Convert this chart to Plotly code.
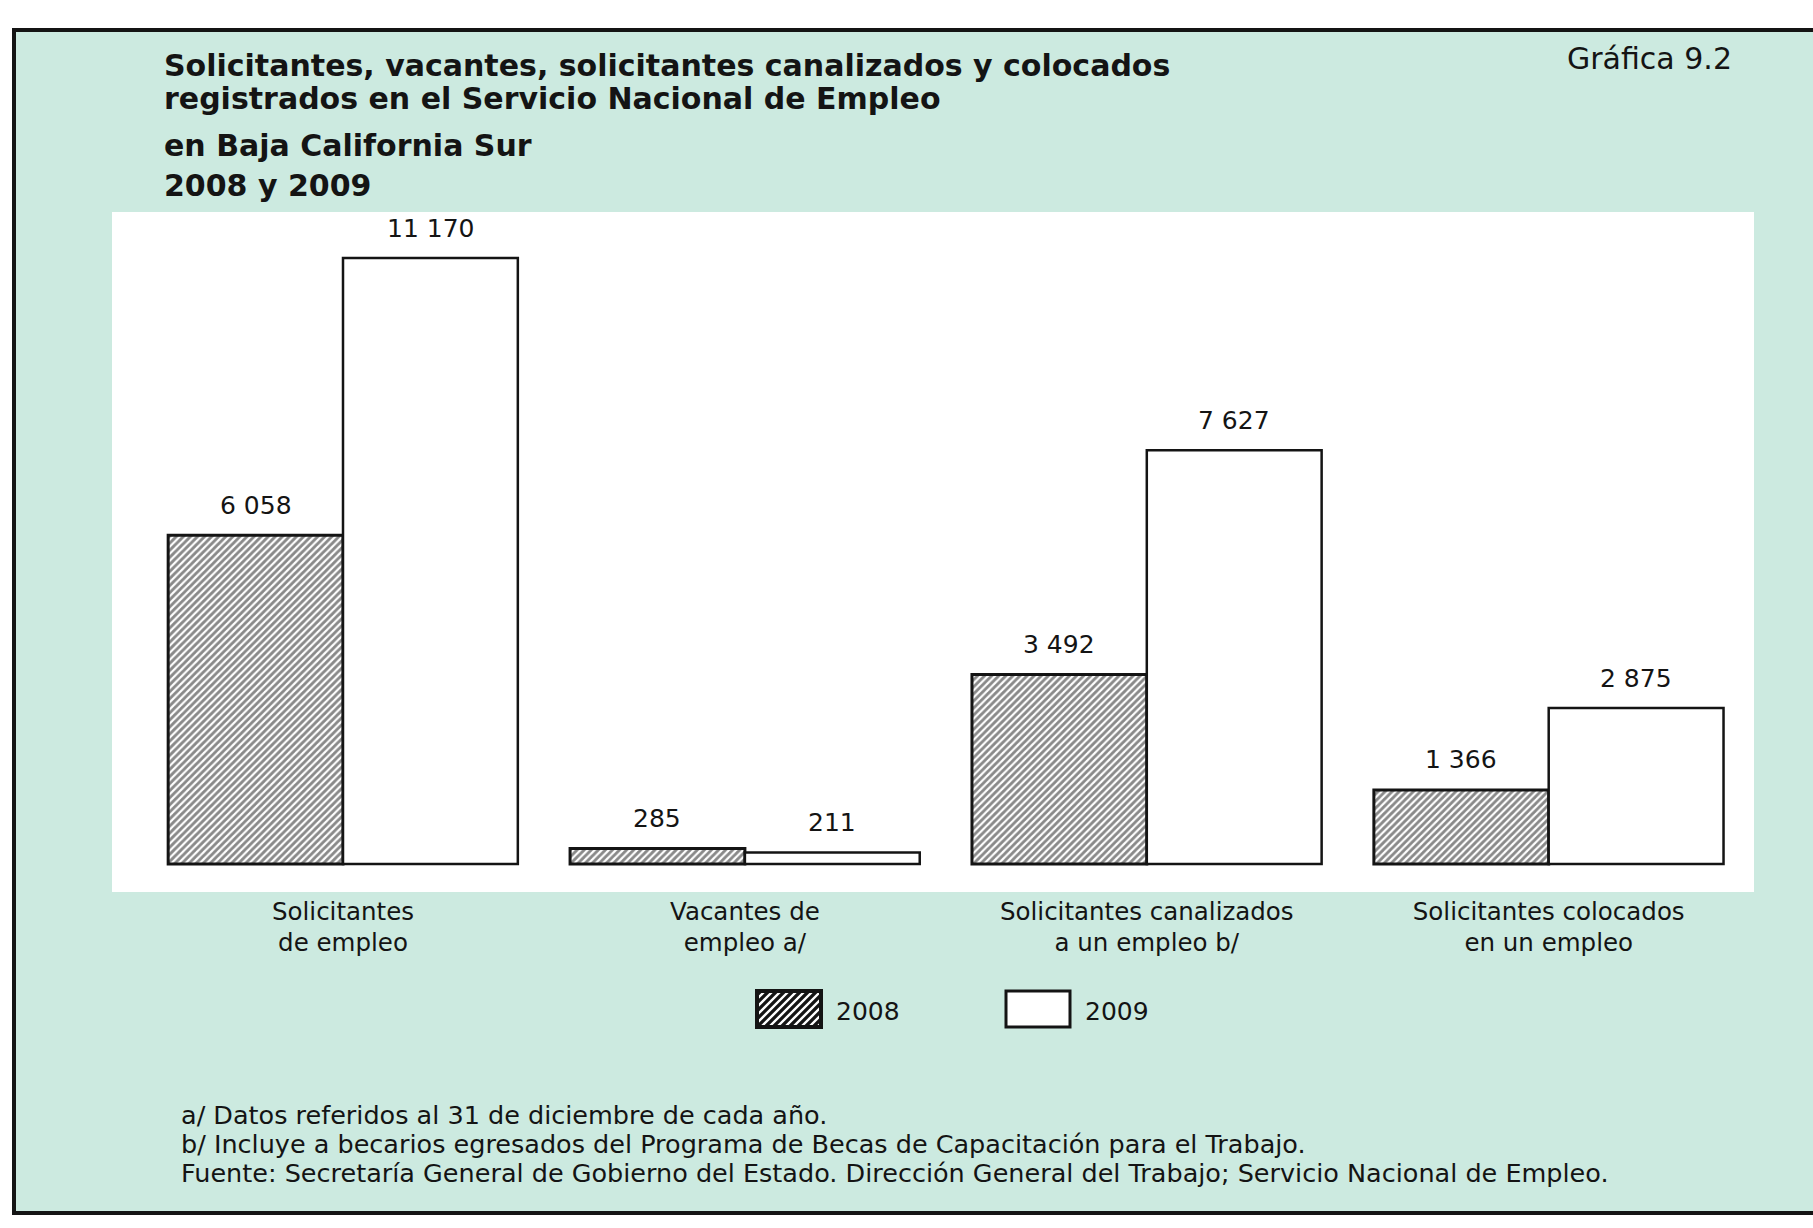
import plotly.graph_objects as go

# ---- data -------------------------------------------------------------
categories = [
    "Solicitantes<br>de empleo",
    "Vacantes de<br>empleo a/",
    "Solicitantes canalizados<br>a un empleo b/",
    "Solicitantes colocados<br>en un empleo",
]
series_names = ["2008", "2009"]
values_2008 = [6058, 285, 3492, 1366]
values_2009 = [11170, 211, 7627, 2875]

title_lines = [
    "Solicitantes, vacantes, solicitantes canalizados y colocados",
    "registrados en el Servicio Nacional de Empleo",
    "en Baja California Sur",
    "2008 y 2009",
]
chart_number = "Gráfica 9.2"
notes = [
    "a/ Datos referidos al 31 de diciembre de cada año.",
    "b/ Incluye a becarios egresados del Programa de Becas de Capacitación para el Trabajo.",
    "Fuente: Secretaría General de Gobierno del Estado. Dirección General del Trabajo; Servicio Nacional de Empleo.",
]

# ---- page geometry (pixels) ------------------------------------------
W, H = 1813, 1228
PX0, PX1 = 112, 1754      # plot area left / right
PY0, PY1 = 212, 892       # plot area top / bottom
MINT = "#cceae0"
INK = "#141414"
FONT = "DejaVu Sans"


def px(x):
    return (x - PX0) / (PX1 - PX0)


def py(y):
    return (PY1 - y) / (PY1 - PY0)


def fmt(v):
    return f"{v:,}".replace(",", " ")


x_pos = list(range(len(categories)))
bargap = 0.13
half_offset = (1 - bargap) / 4

fig = go.Figure()
fig.add_trace(go.Bar(
    x=x_pos, y=values_2008, name=series_names[0],
    marker=dict(color="white", line=dict(color=INK, width=3),
                pattern=dict(shape="/", fgcolor=INK, bgcolor="white",
                             size=5, solidity=0.58)),
    showlegend=False, hoverinfo="skip",
))
fig.add_trace(go.Bar(
    x=x_pos, y=values_2009, name=series_names[1],
    marker=dict(color="white", line=dict(color=INK, width=2.5)),
    showlegend=False, hoverinfo="skip",
))

annotations = []
# value labels above each bar
for vals, sign in ((values_2008, -1), (values_2009, 1)):
    for i, v in enumerate(vals):
        annotations.append(dict(
            x=i + sign * half_offset, y=v, xref="x", yref="y",
            text=fmt(v), showarrow=False, yanchor="middle", yshift=30,
            font=dict(family=FONT, size=25, color=INK),
        ))

# title block
title_y = [65, 99, 146, 186]
for line, yy in zip(title_lines, title_y):
    annotations.append(dict(
        x=px(162), y=py(yy), xref="paper", yref="paper", text=f"<b>{line}</b>",
        showarrow=False, xanchor="left", yanchor="middle",
        font=dict(family=FONT, size=30, color=INK),
    ))
annotations.append(dict(
    x=px(1734), y=py(59), xref="paper", yref="paper", text=chart_number,
    showarrow=False, xanchor="right", yanchor="middle",
    font=dict(family=FONT, size=30, color=INK),
))

# footnotes
for line, yy in zip(notes, [1115, 1144, 1173]):
    annotations.append(dict(
        x=px(179), y=py(yy), xref="paper", yref="paper", text=line,
        showarrow=False, xanchor="left", yanchor="middle",
        font=dict(family=FONT, size=25.5, color=INK),
    ))

# legend: swatch boxes + labels
shapes = []
legend_y = 1009
swatches = [(757, 821, series_names[0], True), (1006, 1070, series_names[1], False)]
for x0, x1, name, hatched in swatches:
    y0, y1 = legend_y - 18, legend_y + 18
    if hatched:
        shapes.append(dict(type="rect", xref="paper", yref="paper",
                           x0=px(x0), x1=px(x1), y0=py(y1), y1=py(y0),
                           fillcolor="white", line=dict(width=0)))
        period = 8
        segs = []
        c = x0 + y0 + period / 2
        while c < x1 + y1:
            # line x + y = c, clipped to the box
            pts = []
            for xx in (x0, x1):
                yy = c - xx
                if y0 <= yy <= y1:
                    pts.append((xx, yy))
            for yy in (y0, y1):
                xx = c - yy
                if x0 <= xx <= x1:
                    pts.append((xx, yy))
            if len(pts) >= 2:
                (ax, ay), (bx, by) = pts[0], pts[1]
                segs.append(f"M{px(ax):.5f},{py(ay):.5f}L{px(bx):.5f},{py(by):.5f}")
            c += period
        shapes.append(dict(type="path", xref="paper", yref="paper",
                           path="".join(segs), line=dict(color=INK, width=3.2)))
        shapes.append(dict(type="rect", xref="paper", yref="paper",
                           x0=px(x0), x1=px(x1), y0=py(y1), y1=py(y0),
                           fillcolor="rgba(0,0,0,0)", line=dict(color=INK, width=4)))
    else:
        shapes.append(dict(type="rect", xref="paper", yref="paper",
                           x0=px(x0), x1=px(x1), y0=py(y1), y1=py(y0),
                           fillcolor="white", line=dict(color=INK, width=3)))
    annotations.append(dict(
        x=px(x1 + 13), y=py(legend_y + 2), xref="paper", yref="paper", text=name,
        showarrow=False, xanchor="left", yanchor="middle",
        font=dict(family=FONT, size=25, color=INK),
    ))

# white margins outside the framed panel, then the frame lines
for x0, x1, y0, y1 in [(0, W, 0, 30), (0, 14, 0, H), (0, W, 1213, H)]:
    shapes.append(dict(type="rect", xref="paper", yref="paper",
                       x0=px(x0), x1=px(x1), y0=py(y1), y1=py(y0),
                       fillcolor="white", line=dict(width=0), layer="below"))
for x0, y0, x1, y1 in [(12, 30, W, 30), (14, 30, 14, 1213), (12, 1213, W, 1213)]:
    shapes.append(dict(type="line", xref="paper", yref="paper",
                       x0=px(x0), y0=py(y0), x1=px(x1), y1=py(y1),
                       line=dict(color=INK, width=4)))

# value scale: 0 sits at pixel row 864, 11 170 reaches row 258
k = (864 - 258) / 11170
y_range = [-(PY1 - 864) / k, (864 - PY0) / k]

# category scale: first group centred at pixel column 343, 401.9 px per group
cat_px = 401.9
x_range = [(PX0 - 343) / cat_px, (PX1 - 343) / cat_px]

fig.update_layout(
    width=W, height=H,
    margin=dict(l=PX0, r=W - PX1, t=PY0, b=H - PY1, pad=0),
    paper_bgcolor=MINT, plot_bgcolor="white",
    barmode="group", bargap=bargap, bargroupgap=0,
    xaxis=dict(range=x_range,
               tickvals=x_pos, ticktext=categories, showgrid=False,
               zeroline=False, showline=False, ticks="",
               tickfont=dict(family=FONT, size=24.5, color=INK),
               ticklabelstandoff=2, fixedrange=True),
    yaxis=dict(range=y_range, visible=False, fixedrange=True),
    annotations=annotations, shapes=shapes,
    font=dict(family=FONT, color=INK),
)

fig.write_html("out.html")
